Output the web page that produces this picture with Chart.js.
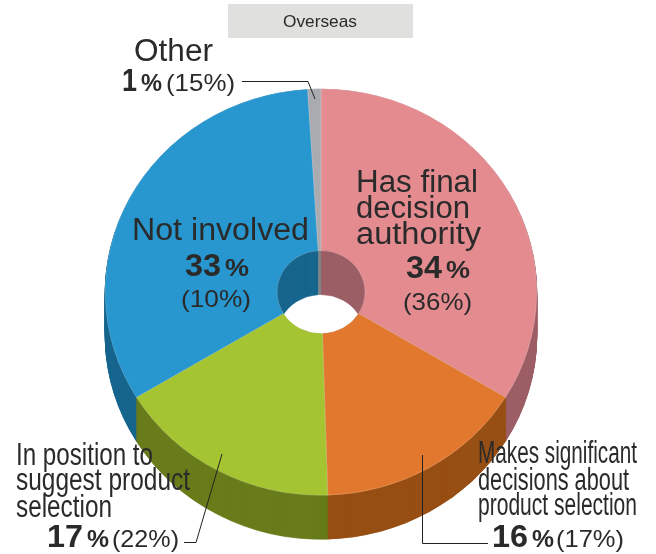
<!DOCTYPE html>
<html><head><meta charset="utf-8">
<script src="https://cdn.jsdelivr.net/npm/chart.js@4"></script>
<style>html,body{margin:0;padding:0;background:#fff}canvas{display:block}#w{position:relative;width:656px;height:554px}</style>
</head><body><div id="w"><canvas id="c" width="656" height="554"></canvas></div>
<script>
const title = "Overseas";
const categories = ["Has final decision authority","Makes significant decisions about product selection","In position to suggest product selection","Not involved","Other"];
const shares = [34, 16, 17, 33, 1];
const previous = [36, 17, 22, 10, 15];
const topColors = ["#e48b90","#e2782e","#a4c431","#2897cf","#a9abb0"];
const wallColors = ["#9c5e65","#974f14","#697c1b","#17658e","#85878c"];

const INK = "#2a2a2a";
const FACE = '"Liberation Sans", Arial, sans-serif';
const SQUASH = 203.5/216, DEPTH = 44;

function squash(ctx, arc, dy){
  ctx.translate(arc.x, arc.y + dy);
  ctx.scale(1, SQUASH);
  ctx.translate(-arc.x, -arc.y);
}
function fit(ctx, text, x, y, font, w){
  ctx.save();
  ctx.font = font; ctx.fillStyle = INK; ctx.textBaseline = "alphabetic"; ctx.textAlign = "left";
  const m = ctx.measureText(text).width;
  ctx.translate(x, y); ctx.scale(w/m, 1);
  ctx.fillText(text, 0, 0);
  ctx.restore();
}
function name(ctx, text, x, y, size, w){ fit(ctx, text, x, y, size+"px "+FACE, w); }
function pct(ctx, i, x, y, numW, pctW){
  const n = String(shares[i]);
  fit(ctx, n, x, y, "bold 31px "+FACE, numW);
  fit(ctx, "%", x+numW+4, y, "bold 23px "+FACE, pctW);
}
function prev(ctx, i, x, y, w){ fit(ctx, "("+previous[i]+"%)", x, y, "24px "+FACE, w); }
function leader(ctx, pts){
  ctx.save(); ctx.strokeStyle = "#222"; ctx.lineWidth = 1; ctx.beginPath();
  pts.forEach((p,k)=> k ? ctx.lineTo(p[0],p[1]) : ctx.moveTo(p[0],p[1]));
  ctx.stroke(); ctx.restore();
}

const solid = {
  id: "solid",
  beforeDatasetsDraw(chart){
    const ctx = chart.ctx, arcs = chart.getDatasetMeta(0).data;
    for (let d = DEPTH; d > 0; d -= 0.5){
      arcs.forEach((arc,i)=>{
        ctx.save();
        squash(ctx, arc, d);
        const o = {backgroundColor: wallColors[i], borderColor: wallColors[i], borderWidth: 0.6,
          borderAlign: "center", offset: 0, spacing: 0, circular: true, borderRadius: 0, borderJoinStyle: "round"};
        arc.draw.call(Object.create(arc, {options: {value: o}, pixelMargin: {value: 0, writable: true}, fullCircles: {value: 0, writable: true}}), ctx);
        ctx.restore();
      });
    }
    ctx.save();
    squash(ctx, arcs[0], 0);
  },
  afterDatasetsDraw(chart){ chart.ctx.restore(); },
  afterDraw(chart){
    const ctx = chart.ctx;
    ctx.save();
    ctx.fillStyle = "#e0e0de"; ctx.fillRect(228, 4, 185, 34);
    ctx.restore();
    fit(ctx, title, 283, 27, "17px "+FACE, 74);

    leader(ctx, [[242,81.5],[308,81.5],[315,99]]);
    leader(ctx, [[184,542.5],[196,542.5],[222,454]]);
    leader(ctx, [[422.5,455],[422.5,543.5],[488,543.5]]);

    name(ctx, "Other", 134, 61, 31, 79);
    pct(ctx, 4, 122, 91, 15, 21); prev(ctx, 4, 166, 91, 69);

    name(ctx, "Has final", 356, 192, 31, 122);
    name(ctx, "decision", 356, 218, 31, 114);
    name(ctx, "authority", 356, 244, 31, 125);
    pct(ctx, 0, 406, 278, 36, 24); prev(ctx, 0, 403, 310, 69);

    name(ctx, "Not involved", 132, 240, 31, 177);
    pct(ctx, 3, 185, 276, 36, 24); prev(ctx, 3, 181, 307, 70);

    name(ctx, "In position to", 16, 465, 31, 137);
    name(ctx, "suggest product", 16, 490, 31, 174);
    name(ctx, "selection", 16, 517, 31, 96);
    pct(ctx, 2, 47, 547, 36, 22); prev(ctx, 2, 112, 547, 67);

    name(ctx, "Makes significant", 478, 463, 31, 159);
    name(ctx, "decisions about", 478, 490, 31, 151);
    name(ctx, "product selection", 478, 515, 31, 159);
    pct(ctx, 1, 492, 547, 36, 22); prev(ctx, 1, 556, 547, 68);
  }
};

new Chart(document.getElementById("c"), {
  type: "doughnut",
  data: { labels: categories, datasets: [{ data: shares, backgroundColor: topColors, borderColor: "rgba(255,255,255,0.4)", borderWidth: 0.5, clip: false }] },
  options: {
    responsive: false, animation: false, devicePixelRatio: 1, cutout: "20.4%",
    layout: { padding: { left: 105, right: 119, top: 76, bottom: 46 } },
    plugins: { legend: { display: false }, tooltip: { enabled: false } },
    events: []
  },
  plugins: [solid]
});
</script></body></html>
